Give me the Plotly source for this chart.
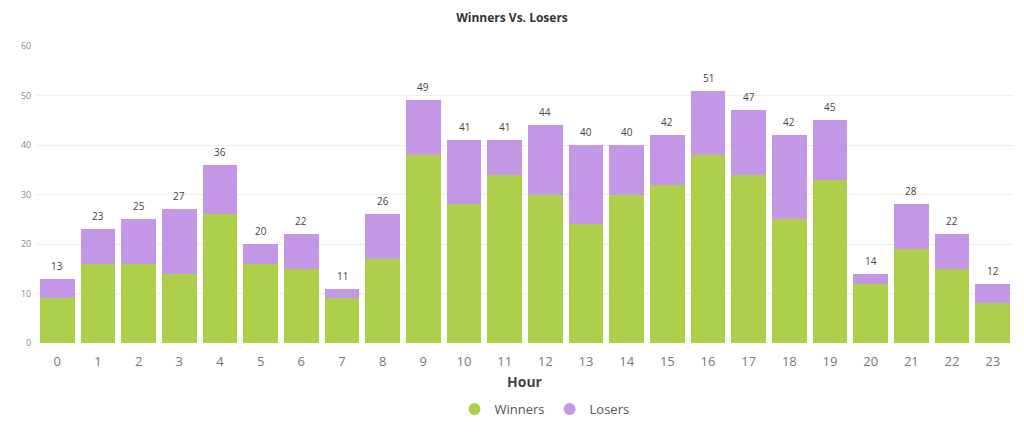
import plotly.graph_objects as go

hours = [str(h) for h in range(24)]
totals = [13, 23, 25, 27, 36, 20, 22, 11, 26, 49, 41, 41, 44, 40, 40, 42, 51, 47, 42, 45, 14, 28, 22, 12]
winners = [9, 16, 16, 14, 26, 16, 15, 9, 17, 38, 28, 34, 30, 24, 30, 32, 38, 34, 25, 33, 12, 19, 15, 8]
losers = [t - w for t, w in zip(totals, winners)]

GREEN = "#AECF4B"
PURPLE = "#C397E6"

fig = go.Figure()
fig.add_trace(go.Bar(x=hours, y=winners, name="Winners", marker_color=GREEN,
                     marker_line_width=0, showlegend=False))
fig.add_trace(go.Bar(x=hours, y=losers, name="Losers", marker_color=PURPLE,
                     marker_line_width=0, showlegend=False))
# legend entries with circle markers
fig.add_trace(go.Scatter(x=[None], y=[None], mode="markers", name="Winners",
                         marker=dict(symbol="circle", size=14, color=GREEN)))
fig.add_trace(go.Scatter(x=[None], y=[None], mode="markers", name="Losers",
                         marker=dict(symbol="circle", size=14, color=PURPLE)))

annotations = [dict(x=h, y=t, xref="x", yref="y", text=str(t), showarrow=False,
                    yanchor="bottom", yshift=4, font=dict(size=10, color="#444"))
               for h, t in zip(hours, totals)]
annotations.append(dict(text="<b>Hour</b>", xref="paper", yref="paper", x=0.5, y=-0.128,
                        xanchor="center", yanchor="middle", showarrow=False,
                        font=dict(size=14, color="#444")))

fig.update_layout(
    width=1024, height=435,
    margin=dict(l=37, r=11, t=46, b=92),
    barmode="stack", bargap=0.15,
    plot_bgcolor="white", paper_bgcolor="white",
    font=dict(family="Open Sans, DejaVu Sans, sans-serif", color="#555"),
    title=dict(text="<b>Winners Vs. Losers</b>", x=0.5, xanchor="center", y=0.958, yanchor="middle",
               font=dict(size=12, color="#333")),
    xaxis=dict(type="category", range=[-0.5, 23.5], showgrid=False, zeroline=False, showline=False,
               tickfont=dict(size=13, color="#777"), ticks="outside", ticklen=6, tickcolor="white"),
    yaxis=dict(range=[0, 60], dtick=10, showgrid=True, gridcolor="#EEEEEE", gridwidth=1,
               zeroline=False, showline=False, tickfont=dict(size=9, color="#888"),
               ticks="outside", ticklen=3, tickcolor="white"),
    legend=dict(orientation="h", x=0.52, xanchor="center", y=-0.222, yanchor="middle",
                traceorder="normal", font=dict(size=13, color="#555"), itemsizing="constant"),
    annotations=annotations,
)

fig.write_html("out.html")
